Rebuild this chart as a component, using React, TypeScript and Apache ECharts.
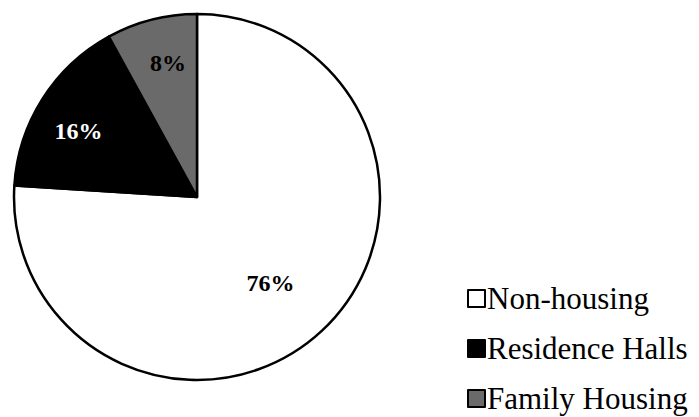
import React, { useEffect, useRef } from "react";
import * as echarts from "echarts";

const categories = ["Non-housing", "Residence Halls", "Family Housing"];
const values = [76, 16, 8];
const sliceColors = ["#ffffff", "#000000", "#6a6a6a"];
const labelColors = ["#000000", "#ffffff", "#000000"];
const labelRadiusFactor = [0.62, 0.74, 0.75];
const labelAngleShiftDeg = [2.8, -3.4, 2.2];

const SERIF = "Liberation Serif";

export default function App() {
  const ref = useRef<HTMLDivElement>(null);
  useEffect(() => {
    if (!ref.current) return;
    const chart = echarts.init(ref.current, null, { renderer: "svg" });
    const cx = 197;
    const cy = 197;
    const r = 183;
    const total = values.reduce((a, b) => a + b, 0);
    const mids: number[] = [];
    let acc = 0;
    values.forEach((v, i) => {
      mids.push(
        ((acc + v / 2) / total) * Math.PI * 2 +
          (labelAngleShiftDeg[i] * Math.PI) / 180
      );
      acc += v;
    });
    chart.setOption({
      animation: false,
      backgroundColor: "#ffffff",
      legend: {
        orient: "vertical",
        left: 467,
        top: 283,
        height: 160,
        padding: 0,
        icon: "rect",
        itemWidth: 17,
        itemHeight: 17,
        itemGap: 19,
        selectedMode: false,
        data: categories,
        textStyle: {
          fontFamily: SERIF,
          fontSize: 31,
          lineHeight: 31,
          color: "#000",
          padding: [0, 0, 0, -3],
        },
      },
      series: [
        {
          type: "pie",
          center: [cx, cy],
          radius: r,
          startAngle: 90,
          clockwise: true,
          data: values.map((v, i) => ({
            name: categories[i],
            value: v,
            itemStyle: { color: sliceColors[i] },
            label: { color: labelColors[i] },
          })),
          itemStyle: { borderColor: "#000", borderWidth: 2.5 },
          label: {
            show: true,
            position: "inside",
            formatter: "{c}%",
            fontFamily: SERIF,
            fontWeight: "bold",
            fontSize: 24,
          },
          labelLayout: (params: any) => {
            const i = params.dataIndex;
            const a = mids[i];
            const k = labelRadiusFactor[i];
            return {
              x: cx + k * r * Math.sin(a),
              y: cy - k * r * Math.cos(a),
              align: "center",
              verticalAlign: "middle",
            };
          },
          labelLine: { show: false },
          emphasis: { disabled: true },
        },
      ],
    });
    return () => chart.dispose();
  }, []);
  return (
    <div
      ref={ref}
      style={{ position: "fixed", left: 0, top: 0, width: 699, height: 417 }}
    />
  );
}
